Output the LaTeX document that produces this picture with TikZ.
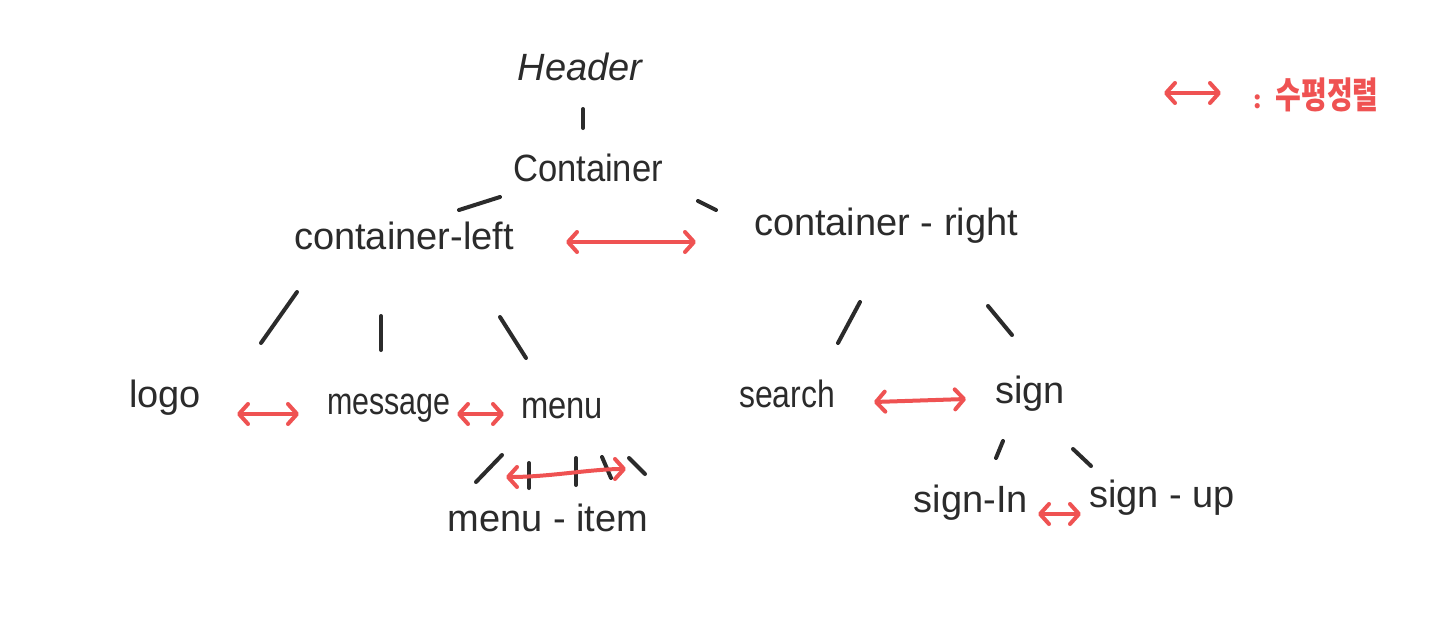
\documentclass[tikz,border=0pt]{standalone}
\usepackage{fontspec}
\setmainfont{Liberation Sans}
\newfontfamily\krfont{Noto Sans CJK KR}
\usetikzlibrary{arrows.meta}
\definecolor{ink}{HTML}{2B2B2B}
\definecolor{redink}{HTML}{EF5252}
\tikzset{
  lbl/.style={inner sep=0pt, text=ink, font=\fontsize{38}{40}\selectfont},
  stroke/.style={draw=ink, line width=4pt, line cap=round},
  harrow/.style={draw=redink, line width=4pt, line cap=round,
    {Straight Barb[length=9pt,width=20pt,line cap=round,line join=round]}-{Straight Barb[length=9pt,width=20pt,line cap=round,line join=round]}},
}
\begin{document}
\begin{tikzpicture}[x=1pt,y=-1pt]
\useasboundingbox[fill=white] (0,0) rectangle (1441,619);
% nodes
\node[lbl, font=\fontsize{38}{40}\selectfont\itshape] (header) at (580,67) {Header};
\node[lbl] (container) at (588,168) {\scalebox{0.91}[1]{Container}};
\node[lbl] (cleft) at (404,236) {container-left};
\node[lbl] (cright) at (886,226) {container - right};
\node[lbl] (logo) at (165,398) {logo};
\node[lbl] (message) at (389,408) {\scalebox{0.8}[1]{message}};
\node[lbl] (menu) at (562,408) {\scalebox{0.86}[1]{menu}};
\node[lbl] (menuitem) at (548,518) {menu - item};
\node[lbl] (search) at (787,394) {\scalebox{0.84}[1]{search}};
\node[lbl] (sign) at (1030,394) {sign};
\node[lbl] (signin) at (971,503) {sign-In};
\node[lbl] (signup) at (1162,498) {sign - up};
% stroke end points
\coordinate (h1) at (583,109); \coordinate (h2) at (583,128);
\coordinate (cl1) at (500,197); \coordinate (cl2) at (459,210);
\coordinate (cr1) at (698,201); \coordinate (cr2) at (716,210);
\coordinate (a1) at (297,292); \coordinate (a2) at (261,343);
\coordinate (b1) at (381,316); \coordinate (b2) at (381,350);
\coordinate (c1) at (500,317); \coordinate (c2) at (526,358);
\coordinate (d1) at (860,302); \coordinate (d2) at (838,343);
\coordinate (e1) at (988,306); \coordinate (e2) at (1012,335);
\coordinate (f1) at (1003,441); \coordinate (f2) at (996,458);
\coordinate (g1) at (1073,449); \coordinate (g2) at (1091,466);
\coordinate (m1) at (502,455); \coordinate (m2) at (476,482);
\coordinate (t1) at (529,463); \coordinate (t2) at (529,488);
\coordinate (u1) at (576,458); \coordinate (u2) at (576,485);
\coordinate (v1) at (602,457); \coordinate (v2) at (611,478);
\coordinate (w1) at (629,458); \coordinate (w2) at (645,474);
% black strokes
\draw[stroke] (h1) -- (h2);
\draw[stroke] (cl1) -- (cl2);
\draw[stroke] (cr1) -- (cr2);
\draw[stroke] (a1) -- (a2);
\draw[stroke] (b1) -- (b2);
\draw[stroke] (c1) -- (c2);
\draw[stroke] (d1) -- (d2);
\draw[stroke] (e1) -- (e2);
\draw[stroke] (f1) -- (f2);
\draw[stroke] (g1) -- (g2);
\draw[stroke] (m1) -- (m2);
\draw[stroke] (t1) -- (t2);
\draw[stroke] (u1) -- (u2);
\draw[stroke] (v1) -- (v2);
\draw[stroke] (w1) -- (w2);
% red arrows
\coordinate (r1a) at (566,242); \coordinate (r1b) at (696,242);
\coordinate (r2a) at (237,414); \coordinate (r2b) at (299,414);
\coordinate (r3a) at (457,414); \coordinate (r3b) at (504,414);
\coordinate (r4a) at (506,477); \coordinate (r4b) at (626,469);
\coordinate (r5a) at (874,402); \coordinate (r5b) at (966,399);
\coordinate (r6a) at (1038,514); \coordinate (r6b) at (1081,514);
\draw[harrow] (r1a) -- (r1b);
\draw[harrow] (r2a) -- (r2b);
\draw[harrow] (r3a) -- (r3b);
\draw[harrow] (r4a) .. controls (550,477) and (590,469) .. (r4b);
\draw[harrow] (r5a) -- (r5b);
\draw[harrow] (r6a) -- (r6b);
% legend
\coordinate (la) at (1164,93); \coordinate (lb) at (1221,93);
\draw[harrow] (la) -- (lb);
\node[inner sep=0pt, text=redink, font=\krfont\bfseries\fontsize{28}{30}\selectfont] (legend) at (1316,95) {{\fontsize{24}{26}\selectfont:}\hspace{14pt}\scalebox{1}[1.3]{수평정렬}};
\end{tikzpicture}
\end{document}
